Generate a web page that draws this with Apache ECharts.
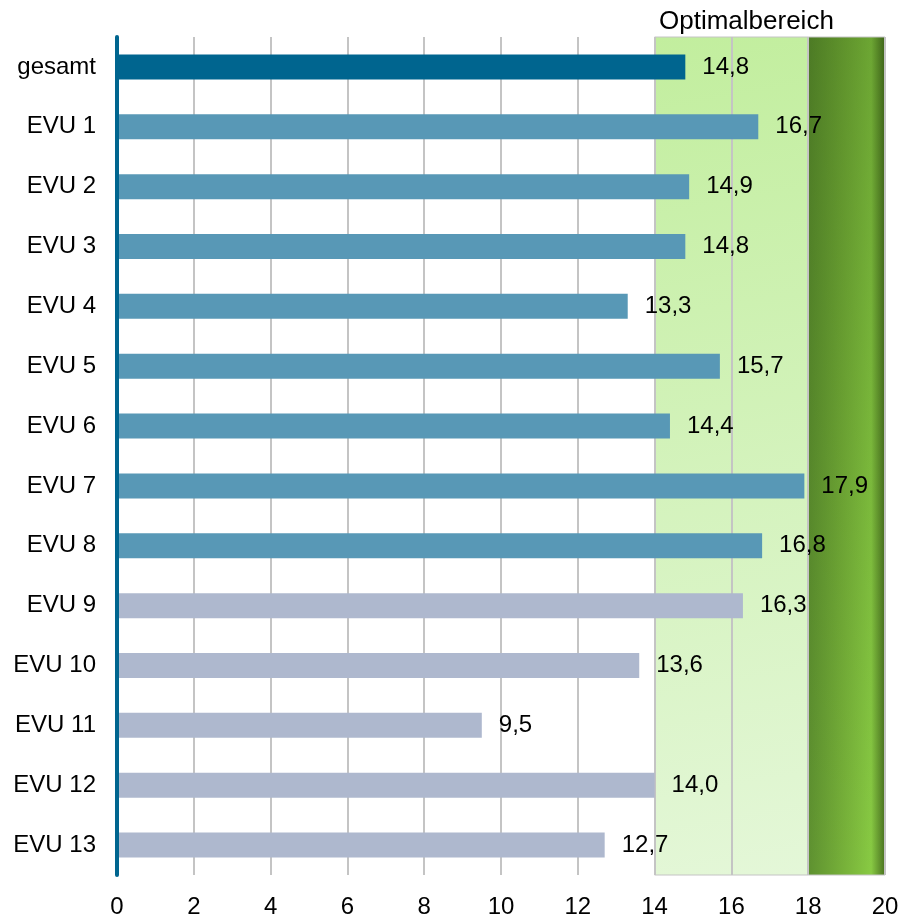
<!DOCTYPE html>
<html>
<head>
<meta charset="utf-8">
<script src="https://cdn.jsdelivr.net/npm/echarts@6/dist/echarts.min.js"></script>
<style>
  html, body { margin: 0; padding: 0; background: #ffffff; }
  #chart { width: 917px; height: 920px; }
</style>
</head>
<body>
<div id="chart"></div>
<script>
// Kategorien von oben nach unten
const categories = ['gesamt', 'EVU 1', 'EVU 2', 'EVU 3', 'EVU 4', 'EVU 5', 'EVU 6',
                    'EVU 7', 'EVU 8', 'EVU 9', 'EVU 10', 'EVU 11', 'EVU 12', 'EVU 13'];
const values = [14.8, 16.7, 14.9, 14.8, 13.3, 15.7, 14.4, 17.9, 16.8, 16.3, 13.6, 9.5, 14.0, 12.7];
// Gruppe je Balken: 0 = gesamt, 1 = EVU 1–8, 2 = EVU 9–13
const groups = [0, 1, 1, 1, 1, 1, 1, 1, 1, 2, 2, 2, 2, 2];
const xTicks = [0, 2, 4, 6, 8, 10, 12, 14, 16, 18, 20];
const optimalRange = [14, 18];
const upperRange = [18, 20];
const areaTitle = 'Optimalbereich';

const groupColors = ['#00658F', '#5898B6', '#AEB8CE'];
const font = 'Liberation Sans, Arial, sans-serif';

const chart = echarts.init(document.getElementById('chart'));

const fmt = v => v.toFixed(1).replace('.', ',');

chart.setOption({
  animation: false,
  title: {
    text: areaTitle,
    left: 654,
    top: 4,
    textStyle: { fontFamily: font, fontSize: 26, fontWeight: 'normal', color: '#000' }
  },
  grid: { left: 117, right: 32, top: 37, bottom: 45, containLabel: false },
  xAxis: {
    type: 'value',
    min: xTicks[0],
    max: xTicks[xTicks.length - 1],
    interval: 2,
    z: 1,
    axisLine: { show: false },
    axisTick: { show: false },
    axisLabel: { fontFamily: font, fontSize: 24, color: '#000', margin: 20 },
    splitLine: { show: true, lineStyle: { color: '#C4C4C4', width: 2 } }
  },
  yAxis: {
    type: 'category',
    data: categories,
    inverse: true,
    z: 3,
    axisLine: { show: true, lineStyle: { color: '#00658F', width: 4 } },
    axisTick: { show: false },
    axisLabel: { fontFamily: font, fontSize: 24, color: '#000', margin: 21 }
  },
  series: [
    {
      // Hintergrundflächen für den Optimalbereich
      type: 'scatter',
      data: [],
      z: 0,
      silent: true,
      markArea: {
        silent: true,
        z: 0,
        data: [
          [{
            xAxis: optimalRange[0],
            itemStyle: {
              color: new echarts.graphic.LinearGradient(0, 0, 1, 1, [
                { offset: 0, color: '#C2EE9E' },
                { offset: 1, color: '#E4F7D8' }
              ]),
              borderColor: '#C4C4C4',
              borderWidth: 1
            }
          }, { xAxis: optimalRange[1] }],
          [{
            xAxis: upperRange[0],
            itemStyle: {
              color: new echarts.graphic.LinearGradient(0, 0, 1, 0, [
                { offset: 0, color: '#5E9130' },
                { offset: 0.45, color: '#76B039' },
                { offset: 0.82, color: '#88CA43' },
                { offset: 1, color: '#4A7220' }
              ])
            }
          }, { xAxis: upperRange[1] }],
          [{
            xAxis: upperRange[0],
            itemStyle: {
              color: new echarts.graphic.LinearGradient(0, 0, 0, 1, [
                { offset: 0, color: 'rgba(20,50,0,0.24)' },
                { offset: 1, color: 'rgba(20,50,0,0)' }
              ]),
              borderColor: '#C4C4C4',
              borderWidth: 1
            }
          }, { xAxis: upperRange[1] }]
        ]
      }
    },
    {
      type: 'bar',
      z: 2,
      barWidth: 25,
      data: values.map((v, i) => ({ value: v, itemStyle: { color: groupColors[groups[i]] } })),
      label: {
        show: true,
        position: 'right',
        distance: 17,
        fontFamily: font,
        fontSize: 24,
        color: '#000',
        formatter: p => fmt(p.value)
      }
    }
  ]
});
</script>
</body>
</html>
